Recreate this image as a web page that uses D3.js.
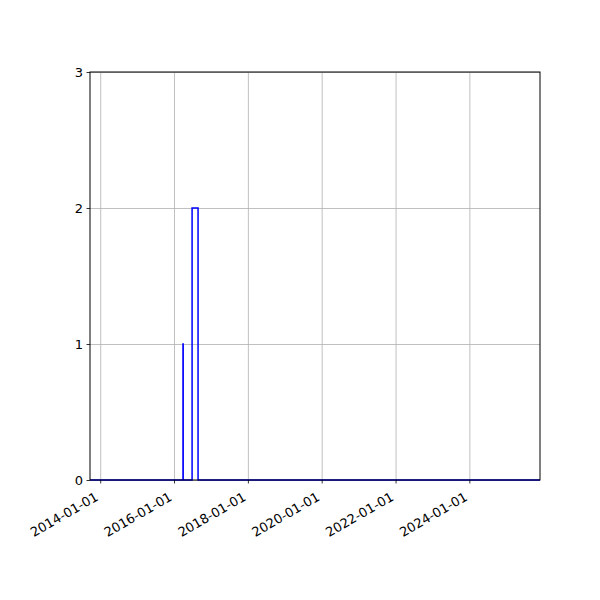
<!DOCTYPE html>
<html>
<head>
<meta charset="utf-8">
<script src="https://cdn.jsdelivr.net/npm/d3@7"></script>
<style>
  body { margin: 0; background: #fff; }
  text { font-family: "DejaVu Sans", sans-serif; }
</style>
</head>
<body>
<svg id="chart" width="600" height="600"></svg>
<script>
// step series (value holds until next date)
const dates = ['2013-09-22', '2016-03-30', '2016-04-01', '2016-06-28', '2016-08-26', '2025-11-30'];
const values = [0, 1, 0, 2, 0, 0];
const xTickLabels = ['2014-01-01', '2016-01-01', '2018-01-01', '2020-01-01', '2022-01-01', '2024-01-01'];
const yTicks = [0, 1, 2, 3];

const width = 600, height = 600;
const margins = { left: 90, right: 60, top: 72, bottom: 120 };

const parseTime = d3.timeParse('%Y-%m-%d');
const data = dates.map((d, i) => ({ date: parseTime(d), value: values[i] }));

const vis = d3.select('#chart');

const xScale = d3.scaleTime()
  .range([margins.left, width - margins.right])
  .domain(d3.extent(data, d => d.date));
const yScale = d3.scaleLinear()
  .range([height - margins.bottom, margins.top])
  .domain([0, 3]);

const xTickVals = xTickLabels.map(parseTime);

// gridlines
vis.append('g')
  .attr('class', 'grid')
  .attr('transform', 'translate(0,' + (height - margins.bottom) + ')')
  .call(d3.axisBottom(xScale).tickValues(xTickVals)
    .tickSize(-(height - margins.bottom - margins.top)).tickFormat('').tickSizeOuter(0));
vis.append('g')
  .attr('class', 'grid')
  .attr('transform', 'translate(' + margins.left + ',0)')
  .call(d3.axisLeft(yScale).tickValues(yTicks)
    .tickSize(-(width - margins.left - margins.right)).tickFormat('').tickSizeOuter(0));
vis.selectAll('.grid .domain').remove();
vis.selectAll('.grid line').attr('stroke', '#b0b0b0').attr('stroke-width', 0.8);

// step line
const lineGen = d3.line()
  .curve(d3.curveStepAfter)
  .x(d => xScale(d.date))
  .y(d => yScale(d.value));

vis.append('path')
  .attr('d', lineGen(data))
  .attr('stroke', 'blue')
  .attr('stroke-width', 1.5)
  .attr('fill', 'none');

// frame
vis.append('rect')
  .attr('x', margins.left).attr('y', margins.top)
  .attr('width', width - margins.left - margins.right)
  .attr('height', height - margins.top - margins.bottom)
  .attr('fill', 'none').attr('stroke', 'black').attr('stroke-width', 1);

// x axis, labels rotated so the rotated box's top-right sits under the tick
const xAxis = vis.append('g')
  .attr('transform', 'translate(0,' + (height - margins.bottom) + ')')
  .call(d3.axisBottom(xScale).tickValues(xTickVals)
    .tickFormat(d3.timeFormat('%Y-%m-%d')).tickSize(3.5).tickSizeOuter(0));
xAxis.select('.domain').remove();
xAxis.selectAll('text')
  .attr('font-size', '13px')
  .attr('fill', 'black')
  .style('text-anchor', 'end')
  .attr('x', 0).attr('y', 0).attr('dy', 0)
  .attr('transform', 'translate(-1.5,19.5) rotate(-30)');

// y axis
const yAxis = vis.append('g')
  .attr('transform', 'translate(' + margins.left + ',0)')
  .call(d3.axisLeft(yScale).tickValues(yTicks).tickFormat(d3.format('d'))
    .tickSize(3.5).tickSizeOuter(0).tickPadding(3.5));
yAxis.select('.domain').remove();
yAxis.selectAll('text').attr('font-size', '13px').attr('fill', 'black');
vis.selectAll('.tick line').filter(function () { return !this.closest('.grid'); })
  .attr('stroke', 'black').attr('stroke-width', 0.8);
</script>
</body>
</html>
